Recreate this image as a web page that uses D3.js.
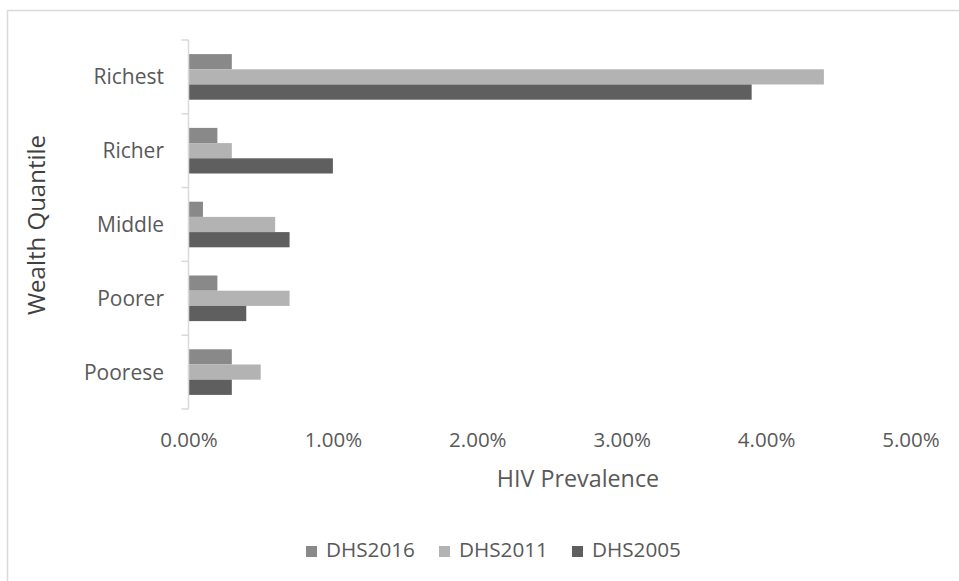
<!DOCTYPE html>
<html>
<head>
<meta charset="utf-8">
<script src="https://cdn.jsdelivr.net/npm/d3@7"></script>
<style>
  html, body { margin: 0; padding: 0; background: #fff; }
  svg { display: block; font-family: "Open Sans", sans-serif; }
</style>
</head>
<body>
<svg id="chart" width="959" height="581"></svg>
<script>
// Wealth quintiles, top to bottom as drawn
const categories = ["Richest", "Richer", "Middle", "Poorer", "Poorese"];
// Survey rounds in the order bars are stacked inside each group
const seriesNames = ["DHS2016", "DHS2011", "DHS2005"];
// HIV prevalence (%) per quintile for each survey
const dhs2016 = [0.3, 0.2, 0.1, 0.2, 0.3];
const dhs2011 = [4.4, 0.3, 0.6, 0.7, 0.5];
const dhs2005 = [3.9, 1.0, 0.7, 0.4, 0.3];
const xTicks = [0, 1, 2, 3, 4, 5];
const seriesColors = ["#898989", "#b3b3b3", "#5f5f5f"];

const seriesValues = [dhs2016, dhs2011, dhs2005];
const rows = categories.map((c, i) => ({
  category: c,
  values: seriesNames.map((s, j) => ({ series: s, value: seriesValues[j][i] }))
}));

const svg = d3.select("#chart");
const textColor = "#595959";
const lineColor = "#d9d9d9";

// Chart frame
svg.append("rect")
  .attr("x", 7.5).attr("y", 10.5)
  .attr("width", 1000).attr("height", 700)
  .attr("fill", "none").attr("stroke", lineColor).attr("stroke-width", 1.5);

const x = d3.scaleLinear().domain([0, 5]).range([188.5, 910.5]);
const y0 = d3.scaleBand().domain(categories).range([40, 409])
  .paddingInner(0.382).paddingOuter(0.191);
const y1 = d3.scaleBand().domain(seriesNames).range([0, y0.bandwidth()]);

// Bars
const groups = svg.append("g").selectAll("g").data(rows).join("g")
  .attr("transform", d => `translate(0,${y0(d.category)})`);
groups.selectAll("rect").data(d => d.values).join("rect")
  .attr("x", x(0))
  .attr("y", d => y1(d.series))
  .attr("width", d => x(d.value) - x(0))
  .attr("height", y1.bandwidth())
  .attr("fill", (d, i) => seriesColors[i]);

// Category axis: line plus tick marks at group boundaries
const step = y0.step();
const catAxis = svg.append("g");
catAxis.append("line")
  .attr("x1", x(0)).attr("x2", x(0))
  .attr("y1", 40).attr("y2", 409)
  .attr("stroke", lineColor).attr("stroke-width", 1.5);
d3.range(categories.length + 1).forEach(i => {
  catAxis.append("line")
    .attr("x1", x(0) - 7).attr("x2", x(0))
    .attr("y1", 40 + i * step).attr("y2", 40 + i * step)
    .attr("stroke", lineColor).attr("stroke-width", 1.5);
});
catAxis.selectAll("text").data(categories).join("text")
  .attr("x", 164)
  .attr("y", d => y0(d) + y0.bandwidth() / 2 + 7.4)
  .attr("text-anchor", "end")
  .attr("font-size", 21)
  .attr("fill", textColor)
  .text(d => d);

// Value axis labels
const valAxis = d3.axisBottom(x).tickValues(xTicks)
  .tickFormat(d => d3.format(".2%")(d / 100)).tickSize(0).tickPadding(0);
const gx = svg.append("g").attr("transform", "translate(0,447)").call(valAxis);
gx.select(".domain").remove();
gx.selectAll("text")
  .attr("dy", 0).attr("y", 0)
  .attr("font-family", "Open Sans, sans-serif")
  .attr("font-size", 20.5).attr("fill", textColor);

// Axis titles
svg.append("text")
  .attr("x", 578).attr("y", 487)
  .attr("text-anchor", "middle")
  .attr("font-size", 23.3).attr("fill", textColor)
  .text("HIV Prevalence");

svg.append("text")
  .attr("transform", "translate(45,225) rotate(-90)")
  .attr("text-anchor", "middle")
  .attr("font-size", 24).attr("fill", "#404040")
  .text("Wealth Quantile");

// Legend
const legend = svg.append("g").selectAll("g").data(seriesNames).join("g")
  .attr("transform", (d, i) => `translate(${306 + i * 133},0)`);
legend.append("rect")
  .attr("x", 0).attr("y", 546).attr("width", 11).attr("height", 11)
  .attr("fill", (d, i) => seriesColors[i]);
legend.append("text")
  .attr("x", 20).attr("y", 556.5)
  .attr("font-size", 20.7).attr("fill", textColor)
  .text(d => d);
</script>
</body>
</html>
